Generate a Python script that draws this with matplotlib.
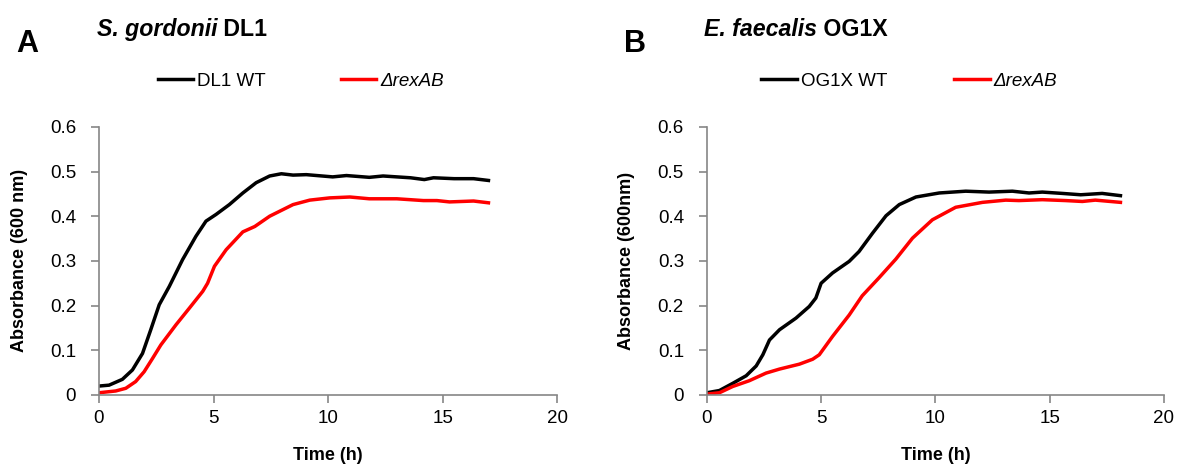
import matplotlib
matplotlib.use("Agg")
import matplotlib.pyplot as plt
from matplotlib.ticker import FormatStrFormatter, MultipleLocator

plt.rcParams['font.family'] = ['Liberation Sans', 'DejaVu Sans']

# S. gordonii DL1
t_dl1_wt = [0, 0.44, 1.02, 1.46, 1.9, 2.26, 2.63, 3.07, 3.65, 4.23, 4.67, 5.11, 5.69, 6.28,
            6.86, 7.45, 7.96, 8.47, 9.05, 10.2, 10.8, 11.8, 12.4, 13.6, 14.2, 14.6, 15.5, 16.35, 17.0]
od_dl1_wt = [0.020, 0.022, 0.035, 0.056, 0.093, 0.146, 0.202, 0.243, 0.303, 0.355, 0.389, 0.404,
             0.426, 0.452, 0.475, 0.490, 0.495, 0.492, 0.493, 0.488, 0.491, 0.487, 0.490, 0.486,
             0.482, 0.486, 0.484, 0.484, 0.480]
t_dl1_rex = [0, 0.73, 1.17, 1.6, 1.97, 2.34, 2.7, 3.36, 3.94, 4.53, 4.74, 5.04, 5.55, 6.28, 6.8,
             7.45, 8.47, 9.2, 10.07, 10.95, 11.8, 13.0, 14.16, 14.75, 15.3, 16.35, 17.0]
od_dl1_rex = [0.005, 0.009, 0.015, 0.030, 0.052, 0.082, 0.112, 0.157, 0.194, 0.232, 0.250, 0.288,
              0.325, 0.365, 0.377, 0.400, 0.426, 0.436, 0.441, 0.443, 0.439, 0.439, 0.435, 0.435,
              0.432, 0.434, 0.430]

# E. faecalis OG1X
t_og_wt = [0, 0.55, 1.13, 1.72, 2.16, 2.45, 2.74, 3.18, 3.9, 4.48, 4.77, 5.0, 5.5, 6.23, 6.66,
           7.25, 7.84, 8.42, 9.15, 10.17, 11.33, 12.35, 13.37, 14.1, 14.68, 15.56, 16.36, 17.3, 18.1]
od_og_wt = [0.005, 0.010, 0.026, 0.043, 0.065, 0.090, 0.123, 0.146, 0.172, 0.198, 0.217, 0.250,
            0.273, 0.299, 0.321, 0.362, 0.401, 0.426, 0.443, 0.452, 0.456, 0.454, 0.456, 0.452,
            0.454, 0.451, 0.448, 0.451, 0.446]
t_og_rex = [0, 0.55, 1.13, 1.86, 2.59, 3.18, 4.05, 4.63, 4.92, 5.5, 6.23, 6.8, 7.53, 8.27, 9.0,
            9.87, 10.89, 12.06, 13.08, 13.66, 14.68, 15.7, 16.43, 17.0, 18.1]
od_og_rex = [0.002, 0.005, 0.019, 0.032, 0.049, 0.058, 0.069, 0.080, 0.090, 0.131, 0.179, 0.222,
             0.262, 0.304, 0.351, 0.392, 0.420, 0.431, 0.436, 0.435, 0.437, 0.435, 0.433, 0.436,
             0.431]

panels = [
    dict(letter="A", species="S. gordonii", strain=" DL1", wt_label="DL1 WT",
         ylabel="Absorbance (600 nm)", wt=(t_dl1_wt, od_dl1_wt), rex=(t_dl1_rex, od_dl1_rex),
         rect=[0.0836, 0.156, 0.387, 0.573], legx=0.44, colsp=4.0),
    dict(letter="B", species="E. faecalis", strain=" OG1X", wt_label="OG1X WT",
         ylabel="Absorbance (600nm)", wt=(t_og_wt, od_og_wt), rex=(t_og_rex, od_og_rex),
         rect=[0.597, 0.156, 0.386, 0.573], legx=0.443, colsp=3.6),
]

fig = plt.figure(figsize=(11.84, 4.68), dpi=100)
spine_col = "#868686"

for p in panels:
    ax = fig.add_axes(p["rect"])
    l1, = ax.plot(*p["wt"], color="black", lw=2.5, label=p["wt_label"])
    l2, = ax.plot(*p["rex"], color="#ff0000", lw=2.5, label="ΔrexAB")
    ax.set_xlim(0, 20)
    ax.set_ylim(0, 0.6)
    ax.xaxis.set_major_locator(MultipleLocator(5))
    ax.yaxis.set_major_locator(MultipleLocator(0.1))
    ax.yaxis.set_major_formatter(FormatStrFormatter("%g"))
    for s in ["top", "right"]:
        ax.spines[s].set_visible(False)
    for s in ["left", "bottom"]:
        ax.spines[s].set_color(spine_col)
        ax.spines[s].set_linewidth(1.2)
    ax.tick_params(direction="out", length=6, width=1.2, color=spine_col, labelsize=13.5)
    ax.tick_params(axis="y", pad=10.5)
    ax.tick_params(axis="x", pad=4.5)
    ax.set_xlabel("Time (h)", fontsize=13, fontweight="bold", labelpad=15)
    ax.set_ylabel(p["ylabel"], fontsize=13, fontweight="bold", labelpad=16)

    leg = ax.legend(handles=[l1, l2], loc="lower center", bbox_to_anchor=(p["legx"], 1.075),
                    ncol=2, frameon=False, fontsize=13.5, handlelength=1.9, handletextpad=0.2,
                    columnspacing=p["colsp"])
    leg.get_texts()[1].set_fontstyle("italic")

    pos = ax.get_position()
    fig.text(pos.x0 - 0.07, 0.905, p["letter"], fontsize=22, fontweight="bold", va="center")
    t1 = fig.text(pos.x0 - 0.002, 0.938, p["species"], fontsize=16.7, fontweight="bold",
                  style="italic", va="center")
    ax.annotate(p["strain"], xy=(1, 0), xycoords=t1, va="bottom", ha="left",
                fontsize=16.7, fontweight="bold", annotation_clip=False)

fig.savefig("out.png", dpi=100)
